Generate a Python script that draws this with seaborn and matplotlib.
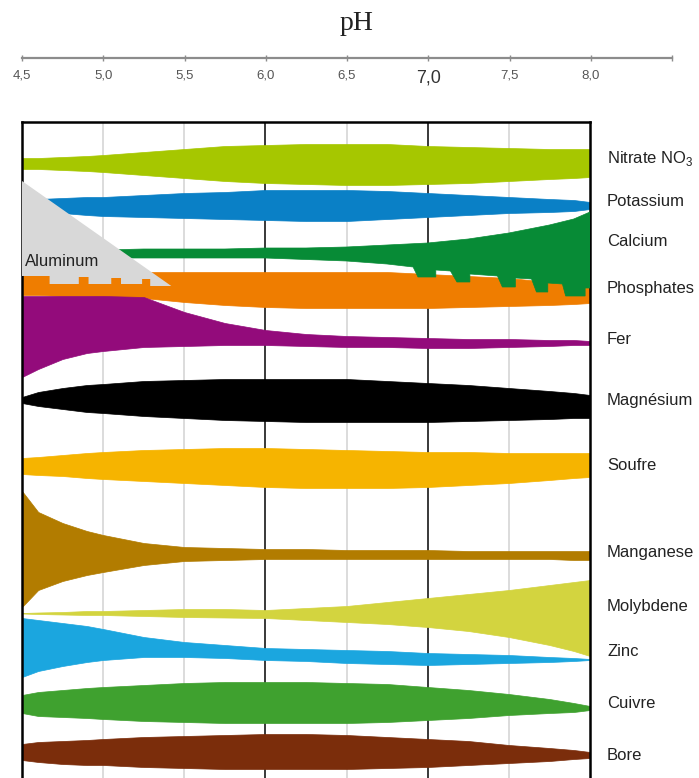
"""Nutrient availability as a function of soil pH (band chart)."""

import matplotlib

matplotlib.use("Agg")
import matplotlib.pyplot as plt
import matplotlib.transforms as mtransforms
import numpy as np
import seaborn as sns

sns.set_theme(style="white")
plt.rcParams["font.family"] = ["Liberation Sans", "DejaVu Sans"]
plt.rcParams["mathtext.fontset"] = "custom"
plt.rcParams["mathtext.rm"] = "Liberation Sans"

# ---- data: pH grid and band edges (rows from the top of the picture) ----
PH = [4.5, 4.6, 4.75, 4.9, 5.0, 5.25, 5.5, 5.75, 6.0, 6.25, 6.5, 6.75, 7.0, 7.25, 7.5, 7.75, 7.9, 8.0]

NITRATE_TOP = [158, 158, 157, 156, 155, 152, 149, 146, 145, 144, 144, 144, 146, 147, 148, 149, 149, 149]
NITRATE_BOT = [169, 169, 170, 171, 172, 175, 178, 181, 183, 184, 185, 185, 184, 183, 181, 179, 178, 177]
POTASSIUM_TOP = [200, 199, 198, 197, 197, 195, 193, 192, 190, 190, 190, 191, 193, 195, 197, 199, 200, 202]
POTASSIUM_BOT = [210, 211, 213, 215, 216, 217, 218, 219, 220, 221, 221, 219, 217, 215, 213, 212, 211, 209]
CALCIUM_TOP = [250, 250, 250, 250, 250, 249, 249, 249, 248, 248, 247, 245, 243, 239, 233, 225, 219, 212]
PHOSPHATES_TOP = [272, 272, 272, 272, 272, 272, 272, 272, 272, 272, 272, 272, 274, 276, 278, 282, 285, 287]
PHOSPHATES_BOT = [295, 295, 296, 296, 297, 298, 302, 305, 307, 308, 308, 308, 308, 307, 306, 305, 304, 303]
FER_TOP = [296, 296, 296, 296, 296, 297, 312, 323, 330, 334, 336, 337, 338, 339, 339, 340, 340, 341]
FER_BOT = [377, 369, 359, 353, 351, 347, 346, 345, 345, 346, 347, 347, 348, 348, 347, 346, 345, 345]
MAGNESIUM_TOP = [397, 392, 388, 385, 384, 381, 380, 379, 379, 379, 379, 381, 383, 385, 388, 391, 393, 395]
MAGNESIUM_BOT = [403, 406, 409, 412, 413, 416, 418, 420, 421, 422, 422, 422, 422, 421, 420, 419, 418, 418]
SOUFRE_TOP = [458, 457, 455, 453, 452, 450, 449, 448, 448, 449, 450, 451, 452, 452, 453, 453, 453, 453]
SOUFRE_BOT = [474, 475, 476, 478, 479, 481, 483, 485, 487, 488, 488, 488, 487, 485, 483, 480, 478, 477]
MANGANESE_TOP = [491, 512, 523, 531, 535, 543, 547, 548, 549, 549, 550, 550, 550, 551, 551, 551, 551, 551]
MANGANESE_BOT = [607, 590, 581, 575, 572, 565, 561, 560, 559, 559, 559, 559, 559, 559, 559, 559, 560, 560]
MOLYBDENE_TOP = [613, 612.5, 612, 611, 611, 610, 609, 609, 610, 608, 606, 602, 598, 594, 590, 585, 582, 580]
MOLYBDENE_BOT = [613.5, 614, 614.5, 615, 615, 616, 617, 617.5, 618, 620, 622, 624, 627, 631, 637, 645, 651, 656]
ZINC_TOP = [618, 620, 623, 626, 629, 637, 642, 645, 648, 649, 650, 651, 653, 654, 655, 657, 658, 659]
ZINC_BOT = [677, 671, 666, 662, 660, 657, 657, 658, 660, 661, 663, 664, 665, 664, 663, 662, 661, 660]
CUIVRE_TOP = [695, 692, 690, 688, 687, 685, 683, 682, 682, 682, 683, 684, 687, 690, 694, 699, 703, 706]
CUIVRE_BOT = [713, 716, 717, 718, 719, 721, 722, 723, 723, 723, 723, 722, 720, 718, 715, 713, 712, 710]
BORE_TOP = [744, 742, 741, 740, 739, 737, 736, 735, 734, 734, 735, 737, 739, 741, 745, 748, 750, 752]
BORE_BOT = [760, 762, 764, 765, 765, 767, 768, 769, 769, 769, 769, 768, 767, 765, 763, 761, 759, 758]

# calcium lower edge with its notches biting into the phosphates band
CA_BOT_PH = [4.5, 5.0, 5.5, 6.0, 6.5, 6.75, 6.91, 6.94, 7.05, 7.05, 7.14, 7.18, 7.26, 7.26,
             7.43, 7.46, 7.54, 7.54, 7.64, 7.67, 7.74, 7.74, 7.83, 7.85, 7.97, 7.97, 8.0]
CA_BOT_ROW = [257, 258, 258, 258, 261, 264, 267, 277, 277, 270, 271, 282, 282, 274,
              276, 287, 287, 278, 279, 292, 292, 283, 284, 296, 296, 288, 288]

# aluminum toxicity wedge (crenellated lower edge)
ALU_PH = [4.5, 5.42, 5.29, 5.29, 5.24, 5.24, 5.11, 5.11, 5.05, 5.05, 4.91, 4.91, 4.85, 4.85, 4.67, 4.67, 4.5]
ALU_ROW = [181, 286, 286, 279, 279, 284, 284, 278, 278, 284, 284, 277, 277, 284, 284, 276, 276]

LABELS = ["Nitrate NO$_{\\mathregular{3}}$", "Potassium", "Calcium", "Phosphates", "Fer", "Magnésium",
          "Soufre", "Manganese", "Molybdene", "Zinc", "Cuivre", "Bore"]
LABEL_ROWS = [159, 201, 241, 288, 340, 400, 465, 552, 607, 651, 703, 756]

TICKS = [4.5, 5.0, 5.5, 6.0, 6.5, 7.0, 7.5, 8.0, 8.5]
TICK_LABELS = ["4,5", "5,0", "5,5", "6,0", "6,5", "7,0", "7,5", "8,0", ""]

COLORS = {
    "nitrate": "#A6C700", "potassium": "#0A80C6", "calcium": "#078B36", "phosphates": "#EF7D00",
    "fer": "#930B7B", "magnesium": "#000000", "soufre": "#F6B400", "manganese": "#B27C00",
    "molybdene": "#D3D43F", "zinc": "#1BA6DF", "cuivre": "#3FA12F", "bore": "#7B2D0B",
    "aluminum": "#D8D8D8",
}

fig = plt.figure(figsize=(6.99, 7.78), dpi=100)

# ---- main panel ----
ax = fig.add_axes([22 / 699, 0, 568 / 699, 656 / 778])
ax.set_xlim(4.5, 8.0)
ax.set_ylim(778, 122)

for v in [5.0, 5.5, 6.5, 7.5]:
    ax.axvline(v, color="#d6d6d6", lw=1.2, zorder=1)
for v in [6.0, 7.0]:
    ax.axvline(v, color="#2a2a2a", lw=1.3, zorder=1)

bands = [
    ("phosphates", PHOSPHATES_TOP, PHOSPHATES_BOT),
    ("nitrate", NITRATE_TOP, NITRATE_BOT),
    ("potassium", POTASSIUM_TOP, POTASSIUM_BOT),
    ("fer", FER_TOP, FER_BOT),
    ("magnesium", MAGNESIUM_TOP, MAGNESIUM_BOT),
    ("soufre", SOUFRE_TOP, SOUFRE_BOT),
    ("manganese", MANGANESE_TOP, MANGANESE_BOT),
    ("molybdene", MOLYBDENE_TOP, MOLYBDENE_BOT),
    ("zinc", ZINC_TOP, ZINC_BOT),
    ("cuivre", CUIVRE_TOP, CUIVRE_BOT),
    ("bore", BORE_TOP, BORE_BOT),
]
for key, top, bot in bands:
    ax.fill_between(PH, top, bot, color=COLORS[key], ec=COLORS[key], lw=0.5, zorder=2)

ax.fill(np.r_[PH, CA_BOT_PH[::-1]], np.r_[CALCIUM_TOP, CA_BOT_ROW[::-1]],
        color=COLORS["calcium"], ec=COLORS["calcium"], lw=0.5, zorder=3)
ax.fill(ALU_PH, ALU_ROW, color=COLORS["aluminum"], lw=0, zorder=4)
ax.text(4.52, 262, "Aluminum", fontsize=12, color="#222222", va="center", ha="left", zorder=5)

trans = mtransforms.blended_transform_factory(ax.transAxes, ax.transData)
for lab, row in zip(LABELS, LABEL_ROWS):
    ax.text(1.03, row, lab, transform=trans, fontsize=12, color="#222222",
            va="center", ha="left", clip_on=False)

ax.set_xticks([])
ax.set_yticks([])
ax.spines["bottom"].set_visible(False)
for s in ["left", "top", "right"]:
    ax.spines[s].set_color("black")
    ax.spines[s].set_linewidth(1.8)

# ---- pH scale on top ----
tax = fig.add_axes([22 / 699, 1 - 58 / 778, 650 / 699, 0.001])
tax.set_xlim(4.5, 8.5)
tax.patch.set_visible(False)
sns.despine(ax=tax, left=True, top=True, right=True)
tax.spines["bottom"].set_color("#8c8c8c")
tax.spines["bottom"].set_linewidth(1.6)
tax.set_yticks([])
tax.set_xticks(TICKS)
tax.set_xticklabels(TICK_LABELS)
tax.tick_params(axis="x", direction="inout", length=5, width=1, color="#8c8c8c",
                labelsize=9.5, labelcolor="#555555", pad=6, bottom=True)
big = tax.get_xticklabels()[TICK_LABELS.index("7,0")]
big.set_fontsize(13)
big.set_color("#333333")

fig.text(357 / 699, 1 - 23 / 778, "pH", family=["Liberation Serif", "DejaVu Serif"],
         fontsize=20, color="#222222", ha="center", va="center")

fig.savefig("out.png", dpi=100)
